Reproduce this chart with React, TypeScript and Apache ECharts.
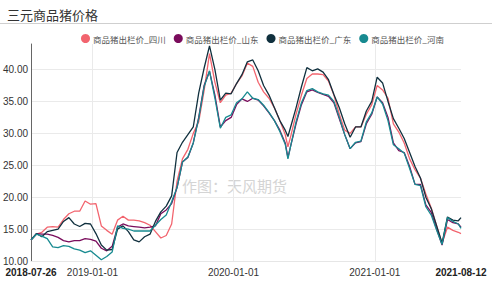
import React, { useEffect, useRef } from "react";
import * as echarts from "echarts";

const dates = [
  "2018-07-26", "2018-08-09", "2018-08-23", "2018-09-06", "2018-09-20", "2018-10-04", "2018-10-18", "2018-11-01",
  "2018-11-15", "2018-11-29", "2018-12-13", "2018-12-27", "2019-01-10", "2019-01-24", "2019-02-07", "2019-02-21",
  "2019-03-07", "2019-03-21", "2019-04-04", "2019-04-18", "2019-05-02", "2019-05-16", "2019-05-30", "2019-06-13",
  "2019-06-27", "2019-07-11", "2019-07-25", "2019-08-08", "2019-08-22", "2019-09-05", "2019-09-19", "2019-10-03",
  "2019-10-17", "2019-10-31", "2019-11-14", "2019-11-28", "2019-12-12", "2019-12-26", "2020-01-09", "2020-01-23",
  "2020-02-06", "2020-02-20", "2020-03-05", "2020-03-19", "2020-04-02", "2020-04-16", "2020-04-30", "2020-05-14",
  "2020-05-21", "2020-05-28", "2020-06-11", "2020-06-25", "2020-07-09", "2020-07-23", "2020-08-06", "2020-08-20",
  "2020-09-03", "2020-09-17", "2020-10-01", "2020-10-15", "2020-10-29", "2020-11-12", "2020-11-26", "2020-12-10",
  "2020-12-24", "2021-01-07", "2021-01-21", "2021-02-04", "2021-02-18", "2021-03-04", "2021-03-18", "2021-04-01",
  "2021-04-15", "2021-04-29", "2021-05-13", "2021-05-27", "2021-06-10", "2021-06-24", "2021-07-08", "2021-07-22",
  "2021-08-05", "2021-08-12",
];

const sichuan = [
  13.3, 14.2, 14.5, 15.3, 15.4, 15.3, 16.5, 17.4, 17.8, 17.8, 19.4, 18.9, 19.0, 15.5, 14.8, 14.2,
  16.4, 17.0, 16.4, 16.4, 16.3, 16.0, 15.6, 14.6, 13.6, 14.0, 15.8, 22.5, 26.0, 27.5, 30.0, 31.8,
  36.7, 42.5, 38.0, 34.8, 36.0, 36.3, 37.8, 39.0, 41.0, 40.5, 38.0, 36.5, 35.5, 34.0, 32.0, 29.8,
  27.9, 29.5, 33.0, 36.0, 38.6, 39.3, 39.3, 39.2, 38.2, 36.0, 33.0, 30.5, 30.0, 31.0, 31.0, 33.0,
  34.5, 37.5, 36.8, 35.5, 31.5, 30.2, 28.5, 26.0, 24.3, 23.0, 20.5, 18.3, 15.5, 12.8, 15.3, 14.8,
  14.5, 14.3,
];

const shandong = [
  13.3, 14.3, 14.2, 14.2, 14.0, 13.7, 13.2, 13.0, 13.2, 13.2, 13.5, 13.4, 13.1, 12.0, 11.6, 12.3,
  15.3, 15.8, 15.5, 15.4, 15.3, 15.2, 15.3, 15.5, 17.4, 18.0, 19.0, 21.5, 25.5, 26.2, 28.5, 32.5,
  37.5, 39.7, 36.0, 31.0, 32.0, 32.5, 34.5, 35.4, 35.0, 35.5, 35.2, 34.3, 33.2, 32.0, 30.5, 28.5,
  26.2, 28.0, 31.5, 34.5, 36.5, 36.8, 36.4, 36.1, 35.8, 34.8, 32.3, 29.8, 27.6, 28.5, 28.7, 31.5,
  33.0, 35.7, 34.8, 32.5, 28.5, 27.3, 27.0, 24.8, 22.0, 22.0, 18.8, 17.6, 15.0, 12.5, 16.5, 16.0,
  15.8, 15.3,
];

const guangdong = [
  13.3, 14.3, 13.8, 14.6, 14.8, 15.0, 16.2, 16.8, 15.8, 15.4, 15.9, 15.8, 14.3, 12.5, 11.7, 11.8,
  15.0, 15.5, 14.6, 13.3, 13.0, 13.8, 14.2, 16.2, 17.7, 18.6, 20.2, 27.0, 28.6, 29.8, 31.0, 36.3,
  40.2, 43.7, 40.0, 35.2, 36.3, 36.2, 37.8, 39.2, 41.2, 41.5, 39.8, 37.5, 36.0, 34.0, 32.0, 30.5,
  29.5, 31.0, 34.0, 37.3, 40.3, 39.8, 40.1, 39.6, 38.4, 36.1, 34.0, 31.5, 29.4, 31.0, 31.0, 33.5,
  35.0, 38.8, 37.9, 35.0, 32.3, 30.8, 29.2, 27.0, 24.8, 23.0, 20.0, 18.2, 15.5, 12.8, 16.9, 16.4,
  16.3, 16.8,
];

const henan = [
  13.3, 14.2, 13.9, 13.5, 12.2, 12.1, 12.4, 12.3, 11.9, 11.7, 11.3, 11.6, 10.9, 10.2, 10.7, 11.4,
  15.5, 15.1, 15.0, 14.7, 14.7, 14.7, 14.7, 15.6, 16.5, 17.2, 19.3, 21.5, 25.5, 26.3, 28.5, 32.3,
  37.3, 39.8, 35.5, 30.8, 32.5, 32.9, 34.8, 35.4, 36.5, 35.5, 35.3, 34.4, 33.3, 32.0, 30.3, 28.3,
  26.0, 28.0, 31.8, 34.8, 36.7, 37.0, 36.5, 36.2, 36.0, 35.0, 32.5, 29.8, 27.6, 28.6, 28.8, 31.8,
  33.2, 35.7, 34.6, 32.0, 28.2, 27.6, 26.9, 24.5, 22.0, 21.8, 18.5, 17.2, 14.8, 12.6, 16.8, 16.2,
  15.8, 15.1,
];

const seriesNames = ["商品猪出栏价_四川", "商品猪出栏价_山东", "商品猪出栏价_广东", "商品猪出栏价_河南"];
const seriesColors = ["#f2646e", "#7a0c5c", "#10303e", "#178a90"];
const xLabelDates = ["2018-07-26", "2019-01-01", "2020-01-01", "2021-01-01", "2021-08-12"];
const yTicks = { min: 10, max: 44, interval: 5 };

const ts = (d: string) => new Date(d + "T00:00:00Z").getTime();
const fmt = (v: number) => {
  const d = new Date(v);
  const p = (n: number) => (n < 10 ? "0" + n : "" + n);
  return d.getUTCFullYear() + "-" + p(d.getUTCMonth() + 1) + "-" + p(d.getUTCDate());
};

export default function App() {
  const ref = useRef<HTMLDivElement>(null);
  useEffect(() => {
    if (!ref.current) return;
    const chart = echarts.init(ref.current, undefined, { renderer: "svg" });
    const allSeries = [sichuan, shandong, guangdong, henan];
    const xMin = ts(dates[0]);
    const xMax = ts(dates[dates.length - 1]);
    const labelVals = xLabelDates.map(ts);
    const gridVals = labelVals.slice(1, labelVals.length - 1);
    chart.setOption({
      animation: false,
      title: {
        text: "三元商品猪价格",
        left: 2,
        top: 3,
        textStyle: { fontSize: 13, fontWeight: "normal", color: "#333", fontFamily: "Noto Sans CJK SC" },
      },
      graphic: [
        {
          type: "line",
          shape: { x1: 0, y1: 23.5, x2: 492, y2: 23.5 },
          style: { stroke: "#cfcfcf", lineWidth: 1 },
        },
        {
          type: "text",
          left: 182,
          top: 178,
          style: {
            text: "作图：天风期货",
            fontSize: 15,
            fill: "#d4d4d4",
            fontFamily: "Noto Sans CJK SC",
          },
          z: 0,
        },
      ],
      legend: {
        left: 76,
        top: 29,
        width: 420,
        icon: "circle",
        itemWidth: 9,
        itemHeight: 9,
        itemGap: 8,
        textStyle: { fontSize: 8.5, color: "#555", fontFamily: "Noto Sans CJK SC", padding: [0, 0, 0, -2] },
        data: seriesNames,
      },
      grid: { left: 27, right: 39, top: 44, bottom: 21, containLabel: false },
      xAxis: {
        type: "value",
        min: xMin,
        max: xMax,
        axisLine: { show: true, lineStyle: { color: "#e6e6e6" } },
        axisTick: { show: false },
        splitLine: { show: false },
        axisLabel: {
          customValues: labelVals,
          margin: 6,
          fontSize: 10,
          color: "#333",
          fontFamily: "Liberation Sans",
          formatter: (v: number) => {
            const s = fmt(v);
            return v === xMin || v === xMax ? "{b|" + s + "}" : s;
          },
          rich: { b: { fontWeight: "bold", fontSize: 10, color: "#222", fontFamily: "Liberation Sans" } },
        },
      },
      yAxis: {
        type: "value",
        min: yTicks.min,
        max: yTicks.max,
        interval: yTicks.interval,
        axisLine: { show: true, lineStyle: { color: "#666" } },
        axisTick: { show: false },
        splitLine: { show: true, showMaxLine: false, showMinLine: false, lineStyle: { color: "#eaeaea" } },
        axisLabel: {
          showMaxLabel: false,
          margin: 3,
          fontSize: 10,
          color: "#333",
          fontFamily: "Liberation Sans",
          formatter: (v: number) => v.toFixed(2),
        },
      },
      series: seriesNames.map((name, i) => ({
        name,
        type: "line",
        showSymbol: false,
        symbol: "circle",
        color: seriesColors[i],
        lineStyle: { width: 1.3, color: seriesColors[i] },
        data: dates.map((d, j) => [ts(d), allSeries[i][j]]),
        markLine:
          i === 0
            ? {
                silent: true,
                symbol: "none",
                label: { show: false },
                z: 1,
                lineStyle: { color: "#eaeaea", type: "solid", width: 1 },
                data: gridVals.map((v) => ({ xAxis: v })),
              }
            : undefined,
      })),
    });
    return () => chart.dispose();
  }, []);
  return <div ref={ref} style={{ width: 500, height: 282, position: "absolute", left: 0, top: 0 }} />;
}
